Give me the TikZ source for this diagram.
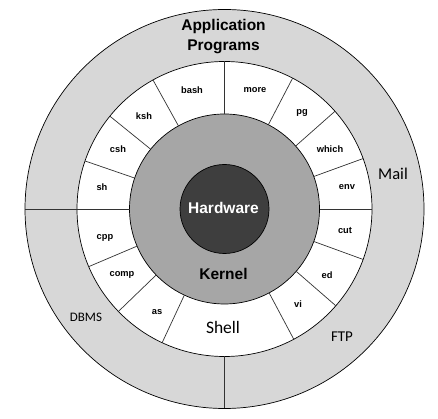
\documentclass[tikz,border=0pt]{standalone}
\usepackage{fontspec}
\setmainfont{Liberation Sans}
\newfontfamily\calfont{Carlito}
\definecolor{ringgray}{HTML}{D7D7D7}
\definecolor{kernelgray}{HTML}{A6A6A6}
\definecolor{hwgray}{HTML}{3E3E3E}
\begin{document}
\begin{tikzpicture}[x=1pt,y=1pt,
  ring/.style={draw=black,line width=0.7pt},
  divider/.style={draw=black!80,line width=0.7pt},
  cmd/.style={font=\bfseries\fontsize{9.3}{10}\selectfont},
  big/.style={font=\bfseries\fontsize{15.5}{17}\selectfont},
  cal/.style={font=\calfont\fontsize{#1}{#1}\selectfont},
  cal/.default=16]
\useasboundingbox (0,0) rectangle (438,419);
\coordinate (c) at (224.5,210);
% rings
\fill[ringgray] (c) circle (199.5);
\draw[ring] (c) circle (199.5);
\fill[white] (c) circle (147.5);
\draw[ring] (c) circle (147.5);
\fill[kernelgray] (c) circle (95);
\draw[ring] (c) circle (95);
\fill[hwgray] (c) circle (44.5);
\draw[ring] (c) circle (44.5);
% outer ring dividers
\begin{scope}[shift={(c)}]
  \foreach \a in {180,270} \draw[divider] (\a:147.5) -- (\a:199.5);
  \foreach \a in {0,20,41.5,62.5,90,119,141,161,180,203,224,245,298,319,340}
    \draw[divider] (\a:95) -- (\a:147.5);
\end{scope}
% shell commands
\node[cmd] (bash) at (192,329) {bash};
\node[cmd] (more) at (255,329) {more};
\node[cmd] (pg) at (302,306) {pg};
\node[cmd] (which) at (330,270) {which};
\node[cmd] (env) at (347,232) {env};
\node[cmd] (cut) at (345,188) {cut};
\node[cmd] (ed) at (327,144) {ed};
\node[cmd] (vi) at (298,115) {vi};
\node[cmd] (as) at (157,107) {as};
\node[cmd] (comp) at (122,144) {comp};
\node[cmd] (cpp) at (105,181) {cpp};
\node[cmd] (sh) at (102,232) {sh};
\node[cmd] (csh) at (118,270) {csh};
\node[cmd] (ksh) at (144,303) {ksh};
\node[cal=17.5] (shell) at (223,92) {Shell};
% core
\node[big,text=white] (hw) at (223.5,211) {Hardware};
\node[big] (kernel) at (223.5,145) {Kernel};
% outer labels
\node[big,align=center,font=\bfseries\fontsize{15.5}{20}\selectfont] (app) at (223.5,382) {Application\\Programs};
\node[cal=16.5] (mail) at (393,245) {Mail};
\node[cal=13] (dbms) at (86,102) {DBMS};
\node[cal=15] (ftp) at (342,82) {FTP};
\end{tikzpicture}
\end{document}
